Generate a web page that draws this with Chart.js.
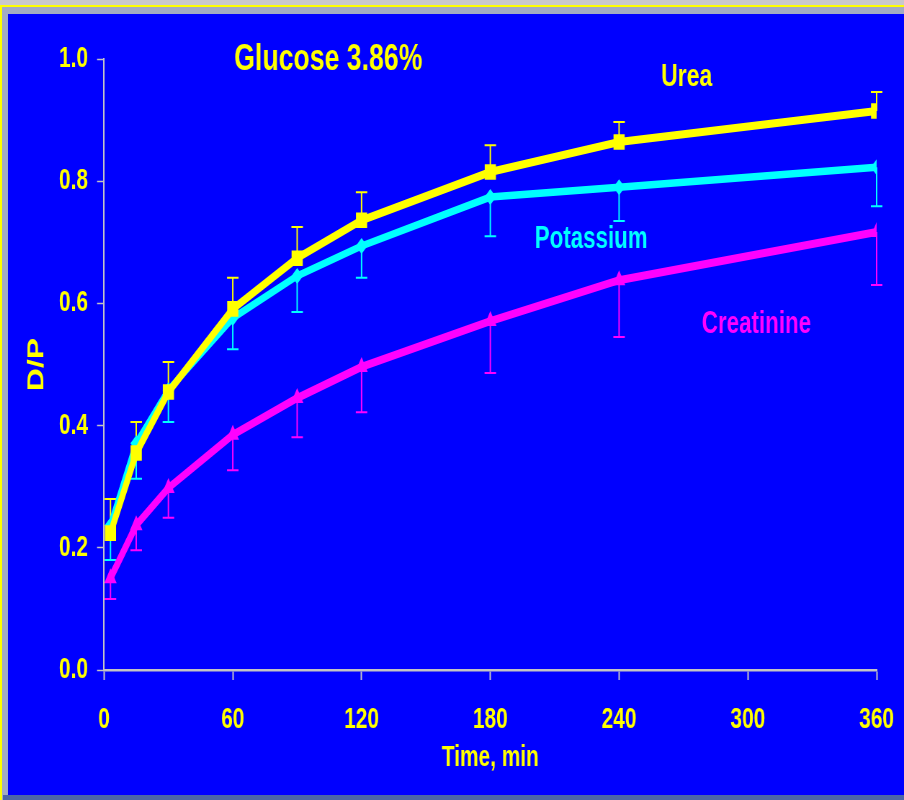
<!DOCTYPE html>
<html>
<head>
<meta charset="utf-8">
<script src="https://cdn.jsdelivr.net/npm/chart.js@4.4.1/dist/chart.umd.min.js"></script>
<style>
  html, body { margin: 0; padding: 0; }
  body { width: 904px; height: 800px; background: #c9c8cc; position: relative; overflow: hidden; }
  #frame { position: absolute; left: 0; top: 5px; width: 902px; height: 795px;
           border-left: 2px solid #ffff00; border-top: 2px solid #ffff00; background: #a3abc3; }
  #bottomStrip { position: absolute; left: 3px; top: 795px; width: 901px; height: 5px; background: #4d66a6; }
  #wrap { position: absolute; left: 8px; top: 14px; width: 896px; height: 781px; background: #0000ff; overflow: hidden; }
  /* the plot is laid out on a wider canvas and condensed horizontally */
  #c { display: block; transform-origin: 0 0; }
</style>
</head>
<body>
<div id="frame"></div>
<div id="bottomStrip"></div>
<div id="wrap"><canvas id="c" width="1244" height="781"></canvas></div>
<script>
// Sampling times (min) and dialysate-to-plasma ratios with one-sided SD bars
const times = [3, 15, 30, 60, 90, 120, 180, 240, 360];
const urea = [0.224, 0.355, 0.455, 0.591, 0.674, 0.736, 0.815, 0.864, 0.915];
const ureaSD = [0.056, 0.051, 0.049, 0.051, 0.051, 0.046, 0.044, 0.033, 0.031];
const potassium = [0.237, 0.371, 0.458, 0.576, 0.645, 0.694, 0.774, 0.790, 0.823];
const potassiumSD = [0.057, 0.058, 0.052, 0.051, 0.059, 0.052, 0.064, 0.055, 0.064];
const creatinine = [0.150, 0.237, 0.298, 0.385, 0.445, 0.496, 0.571, 0.638, 0.717];
const creatinineSD = [0.034, 0.041, 0.049, 0.058, 0.064, 0.074, 0.085, 0.093, 0.087];
const xTicks = [0, 60, 120, 180, 240, 300, 360];
const yTicks = [0.0, 0.2, 0.4, 0.6, 0.8, 1.0];

const canvas = document.getElementById('c');
const SQUEEZE = 896 / canvas.width;
canvas.style.transform = 'scaleX(' + SQUEEZE + ')';

const FONT = "'Liberation Sans', Arial, sans-serif";
const AXIS_GRAY = '#c4c4c4';
const YELLOW = '#ffff00', CYAN = '#00ffff', MAGENTA = '#ff00ff';

const toXY = (vals) => vals.map((v, i) => ({ x: times[i], y: v }));

// One-sided error bars: up for urea, down for the others
const errorBars = {
  id: 'errorBars',
  beforeDatasetsDraw(chart) {
    const { ctx, scales: { x, y } } = chart;
    ctx.save();
    chart.data.datasets.forEach((ds) => {
      const sd = ds.sd, dir = ds.sdDir;
      ctx.strokeStyle = ds.borderColor;
      ctx.lineWidth = 2;
      ds.data.forEach((p, i) => {
        const px = x.getPixelForValue(p.x);
        const py = y.getPixelForValue(p.y);
        const pe = y.getPixelForValue(p.y + dir * sd[i]);
        ctx.beginPath();
        ctx.moveTo(px, py);
        ctx.lineTo(px, pe);
        ctx.moveTo(px - 8, pe);
        ctx.lineTo(px + 8, pe);
        ctx.stroke();
      });
    });
    ctx.restore();
  }
};

// Title and series names written inside the plot
const notes = [
  { text: 'Glucose 3.86%', x: 104.5, y: 0.998, color: YELLOW, size: 37 },
  { text: 'Urea', x: 271.5, y: 0.970, color: YELLOW, size: 32 },
  { text: 'Potassium', x: 227, y: 0.705, color: CYAN, size: 31 },
  { text: 'Creatinine', x: 304, y: 0.566, color: MAGENTA, size: 31 }
];
const plotNotes = {
  id: 'plotNotes',
  afterDatasetsDraw(chart) {
    const { ctx, scales: { x, y } } = chart;
    ctx.save();
    ctx.textAlign = 'center';
    ctx.textBaseline = 'middle';
    notes.forEach((n) => {
      ctx.font = 'bold ' + n.size + 'px ' + FONT;
      ctx.fillStyle = n.color;
      ctx.fillText(n.text, x.getPixelForValue(n.x), y.getPixelForValue(n.y));
    });
    ctx.restore();
  }
};

new Chart(canvas, {
  type: 'line',
  data: {
    datasets: [
      { label: 'Urea', data: toXY(urea), sd: ureaSD, sdDir: 1,
        borderColor: YELLOW, backgroundColor: YELLOW, borderWidth: 8,
        pointStyle: 'rect', pointRadius: 11, pointBorderWidth: 0, tension: 0 },
      { label: 'Potassium', data: toXY(potassium), sd: potassiumSD, sdDir: -1,
        borderColor: CYAN, backgroundColor: CYAN, borderWidth: 7.5,
        pointStyle: 'rectRot', pointRadius: 8, pointBorderWidth: 0, tension: 0 },
      { label: 'Creatinine', data: toXY(creatinine), sd: creatinineSD, sdDir: -1,
        borderColor: MAGENTA, backgroundColor: MAGENTA, borderWidth: 8,
        pointStyle: 'triangle', pointRadius: 10, pointBorderWidth: 0, tension: 0 }
    ]
  },
  options: {
    responsive: false,
    animation: false,
    events: [],
    layout: { padding: { left: 0, right: 38, top: 45, bottom: 0 } },
    plugins: { legend: { display: false }, tooltip: { enabled: false }, title: { display: false } },
    scales: {
      x: {
        type: 'linear', position: 'bottom', min: 0, max: 360,
        afterBuildTicks: (s) => { s.ticks = xTicks.map((v) => ({ value: v })); },
        afterFit: (s) => { s.height = 125; s.paddingLeft = 0; s.paddingRight = 0; },
        border: { display: true, color: AXIS_GRAY, width: 2.5 },
        grid: { display: true, drawOnChartArea: false, drawTicks: true, tickLength: 10,
                tickColor: AXIS_GRAY, tickWidth: 2 },
        ticks: { color: YELLOW, padding: 22.6, maxRotation: 0, autoSkip: false,
                 font: { family: FONT, size: 29, weight: 'bold' } },
        title: { display: true, text: 'Time, min', color: YELLOW,
                 padding: { top: 0, bottom: 19.6 },
                 font: { family: FONT, size: 29, weight: 'bold' } }
      },
      y: {
        type: 'linear', position: 'left', min: 0, max: 1,
        afterBuildTicks: (s) => { s.ticks = yTicks.map((v) => ({ value: v })); },
        afterFit: (s) => { s.width = 133.3; s.paddingTop = 0; s.paddingBottom = 0; },
        border: { display: true, color: AXIS_GRAY, width: 2 },
        grid: { display: true, drawOnChartArea: false, drawTicks: true, tickLength: 9.7,
                tickColor: AXIS_GRAY, tickWidth: 1.5 },
        ticks: { color: YELLOW, padding: 12.5, autoSkip: false,
                 callback: (v) => Number(v).toFixed(1),
                 font: { family: FONT, size: 29, weight: 'bold' } },
        title: { display: true, text: 'D/P', color: YELLOW,
                 padding: { top: 20.6, bottom: 0 },
                 font: { family: FONT, size: 32, weight: 'bold' } }
      }
    }
  },
  plugins: [errorBars, plotNotes]
});
</script>
</body>
</html>
